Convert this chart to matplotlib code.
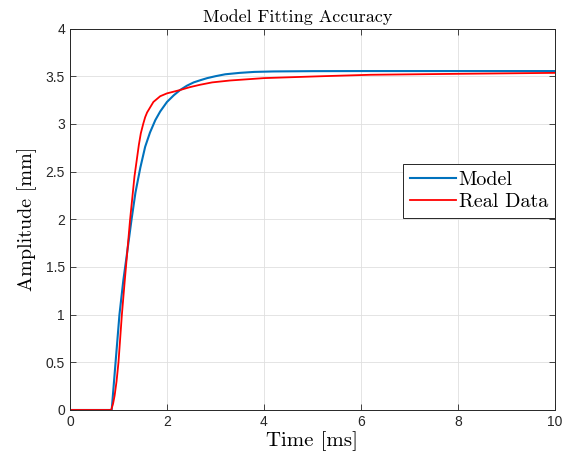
import matplotlib.pyplot as plt

# values
t_model = [0, 0.86, 0.90, 0.94, 1.02, 1.10, 1.17, 1.27, 1.35, 1.45, 1.55, 1.65,
           1.76, 1.86, 2.0, 2.14, 2.27, 2.41, 2.55, 2.7, 2.83, 3.0, 3.2, 3.5,
           3.8, 4.2, 5.0, 6.0, 8.0, 10.0]
y_model = [0, 0, 0.25, 0.5, 1.0, 1.36, 1.62, 2.0, 2.28, 2.54, 2.76, 2.91,
           3.04, 3.13, 3.23, 3.30, 3.355, 3.40, 3.435, 3.46, 3.48, 3.50, 3.52, 3.535,
           3.545, 3.55, 3.553, 3.554, 3.554, 3.554]

t_real = [0, 0.85, 0.89, 0.92, 0.96, 1.0, 1.07, 1.13, 1.24, 1.33, 1.42, 1.46,
          1.51, 1.55, 1.59, 1.72, 1.86, 2.0, 2.27, 2.47, 2.68, 2.93, 3.3, 4.0,
          5.2, 6.2, 8.0, 10.0]
y_real = [0, 0, 0.07, 0.15, 0.3, 0.5, 1.0, 1.36, 2.0, 2.45, 2.78, 2.9,
          3.0, 3.07, 3.12, 3.23, 3.29, 3.32, 3.355, 3.385, 3.41, 3.435, 3.455, 3.48,
          3.50, 3.515, 3.525, 3.535]

fig = plt.figure(figsize=(5.76, 4.66), dpi=100)
ax = fig.add_axes([0.1215, 0.1202, 0.842, 0.8186])

ax.plot(t_model, y_model, color="#0072BD", lw=1.5, label="Model")
ax.plot(t_real, y_real, color="#FF0000", lw=1.3, label="Real Data")

ax.set_xlim(0, 10)
ax.set_ylim(0, 4)
ax.set_xticks([0, 2, 4, 6, 8, 10])
ax.set_yticks([0, 0.5, 1, 1.5, 2, 2.5, 3, 3.5, 4])
ax.set_yticklabels(["0", "0.5", "1", "1.5", "2", "2.5", "3", "3.5", "4"])
for lab in ax.get_xticklabels() + ax.get_yticklabels():
    lab.set_fontfamily("Liberation Sans")
    lab.set_fontsize(10)
    lab.set_color("#262626")

ax.tick_params(direction="in", top=True, right=True, length=4, color="#262626", width=0.6)
for s in ax.spines.values():
    s.set_color("#262626")
    s.set_linewidth(0.7)
ax.grid(True, color="#DFDFDF", lw=0.6)
ax.set_axisbelow(True)

ax.set_title("Model Fitting Accuracy", fontfamily="cmr10", fontsize=13, pad=5, x=0.47)
ax.set_xlabel("Time [ms]", fontfamily="cmr10", fontsize=15, labelpad=2)
ax.set_ylabel("Amplitude [mm]", fontfamily="cmr10", fontsize=14.5, labelpad=6)

leg = ax.legend(loc="upper right", bbox_to_anchor=(1.0, 0.645), fancybox=False,
                prop={"family": "cmr10", "size": 14.5}, handlelength=2.25,
                borderpad=0.35, labelspacing=0.2, handletextpad=0.15, borderaxespad=0)
leg.get_frame().set_edgecolor("#262626")
leg.get_frame().set_linewidth(0.7)
leg.get_frame().set_alpha(1)

plt.savefig("out.png", dpi=100)
